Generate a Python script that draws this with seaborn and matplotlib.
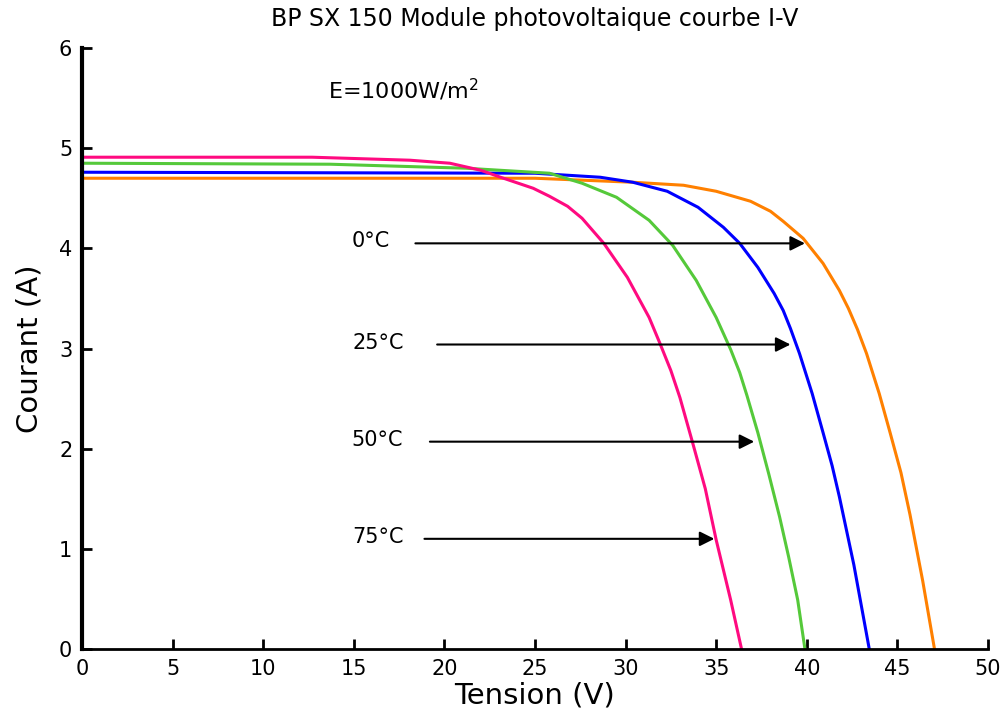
import pandas as pd
import matplotlib.pyplot as plt
import seaborn as sns

# courbes I-V (tension V, courant A)
temps = ['0°C', '25°C', '50°C', '75°C']

v_0 = [0, 25.0, 30.4, 33.2, 35.0, 36.9, 38.0, 38.7, 39.8, 40.9, 41.8, 42.3, 42.8, 43.3, 44.0, 44.6, 45.2, 45.7, 46.4, 47.05]
i_0 = [4.70, 4.70, 4.66, 4.63, 4.57, 4.47, 4.37, 4.27, 4.10, 3.85, 3.58, 3.40, 3.19, 2.95, 2.55, 2.16, 1.76, 1.34, 0.68, 0.0]

v_25 = [0, 25.0, 28.6, 30.4, 32.3, 34.0, 35.4, 36.3, 37.3, 38.2, 38.7, 39.1, 39.6, 40.3, 40.9, 41.4, 41.8, 42.6, 43.45]
i_25 = [4.76, 4.75, 4.71, 4.66, 4.57, 4.41, 4.21, 4.05, 3.81, 3.55, 3.38, 3.20, 2.95, 2.55, 2.16, 1.83, 1.52, 0.84, 0.0]

v_50 = [0, 13.7, 21.2, 25.8, 27.6, 29.5, 31.3, 32.6, 33.9, 35.0, 35.8, 36.3, 36.7, 37.3, 37.9, 38.5, 39.0, 39.5, 39.9]
i_50 = [4.85, 4.84, 4.80, 4.75, 4.65, 4.51, 4.28, 4.03, 3.68, 3.31, 2.99, 2.76, 2.53, 2.16, 1.75, 1.32, 0.92, 0.49, 0.0]

v_75 = [0, 12.7, 18.1, 20.3, 22.0, 23.1, 24.9, 25.8, 26.8, 27.6, 28.8, 30.1, 31.3, 31.9, 32.5, 33.0, 33.7, 34.4, 35.0, 35.8, 36.4]
i_75 = [4.91, 4.91, 4.88, 4.85, 4.78, 4.71, 4.60, 4.52, 4.42, 4.30, 4.05, 3.71, 3.31, 3.05, 2.78, 2.51, 2.06, 1.60, 1.09, 0.49, 0.0]

# fleches des etiquettes: courant, debut et fin en tension
arrow_i = [4.05, 3.04, 2.07, 1.10]
arrow_start = [18.4, 19.6, 19.2, 18.9]
arrow_end = [39.9, 39.1, 37.1, 34.9]
label_x = [14.9, 14.95, 14.85, 14.9]

colors = ['#FF8000', '#0000FF', '#55C93A', '#FF0A80']

frames = []
for t, v, i in zip(temps, [v_0, v_25, v_50, v_75], [i_0, i_25, i_50, i_75]):
    frames.append(pd.DataFrame({'V': v, 'I': i, 'T': t}))
df = pd.concat(frames, ignore_index=True)

sns.set_style('ticks')
plt.rcParams['font.family'] = ['DejaVu Sans']
plt.rcParams['text.color'] = 'black'
plt.rcParams['axes.labelcolor'] = 'black'
plt.rcParams['xtick.color'] = 'black'
plt.rcParams['ytick.color'] = 'black'
plt.rcParams['axes.edgecolor'] = 'black'

fig = plt.figure(figsize=(10.04, 7.18), dpi=100)
ax = fig.add_axes([0.0817, 0.0961, 0.9023, 0.837])

sns.lineplot(data=df, x='V', y='I', hue='T', hue_order=temps, palette=colors,
             sort=False, estimator=None, linewidth=2.2, legend=False, ax=ax)

for t, yi, x0, x1, lx in zip(temps, arrow_i, arrow_start, arrow_end, label_x):
    ax.annotate('', xy=(x1, yi), xytext=(x0, yi),
                arrowprops=dict(arrowstyle='-|>', color='black', lw=1.5,
                                mutation_scale=22, shrinkA=0, shrinkB=0))
    ax.text(lx, yi + 0.02, t, fontsize=15, va='center', ha='left')

ax.text(13.6, 5.58, 'E=1000W/m$^2$', fontsize=16, va='center', ha='left')

ax.set_xlim(0, 50)
ax.set_ylim(0, 6)
ax.set_xticks(range(0, 51, 5))
ax.set_yticks(range(0, 7))
ax.tick_params(direction='in', length=7, width=2, labelsize=15, pad=7)
ax.spines['top'].set_visible(False)
ax.spines['right'].set_visible(False)
ax.spines['left'].set_linewidth(3)
ax.spines['bottom'].set_linewidth(2)

ax.set_title('BP SX 150 Module photovoltaique courbe I-V', fontsize=17, pad=16)
ax.set_xlabel('Tension (V)', fontsize=21, labelpad=2)
ax.set_ylabel('Courant (A)', fontsize=21, labelpad=11)

plt.savefig('out.png', dpi=100)
